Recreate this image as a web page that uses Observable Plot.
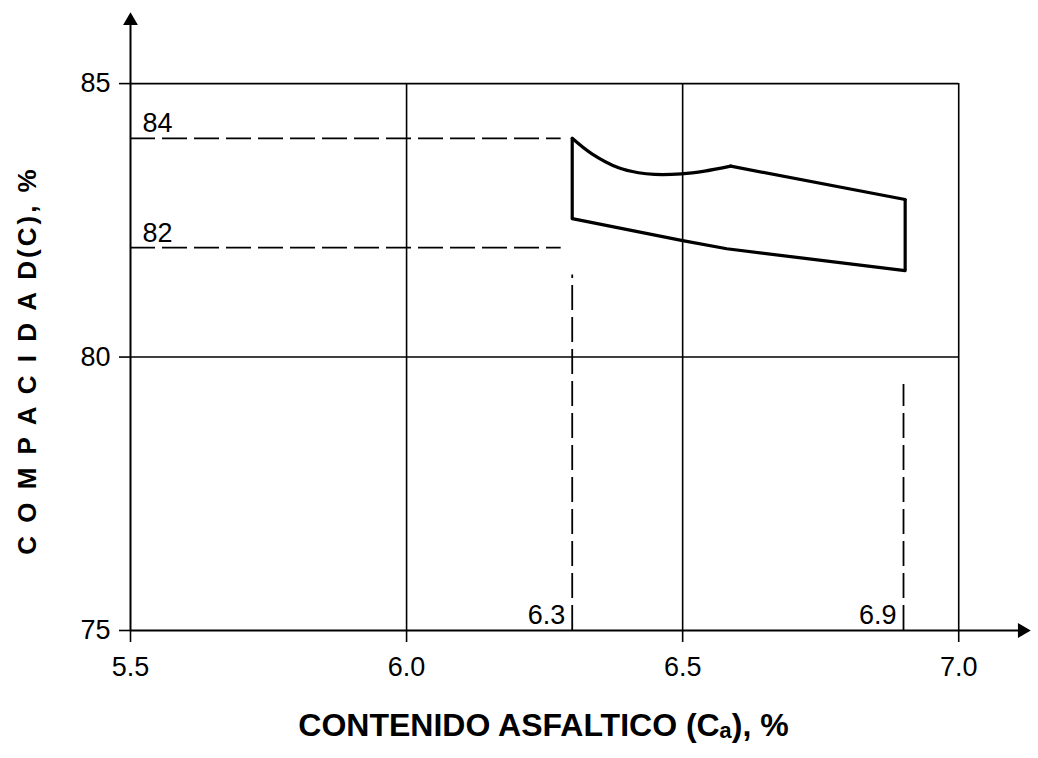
<!DOCTYPE html>
<html>
<head>
<meta charset="utf-8">
<script src="https://cdn.jsdelivr.net/npm/d3@7"></script>
<script src="https://cdn.jsdelivr.net/npm/@observablehq/plot@0.6"></script>
<style>
  html, body { margin: 0; padding: 0; background: #fff; }
  .ylab text { letter-spacing: 3px; }
</style>
</head>
<body>
<div id="chart"></div>
<script>
// ---- data ----
const xTicks = [5.5, 6.0, 6.5, 7.0];
const yTicks = [75, 80, 85];
const gridX = [6.0, 6.5, 7.0];
const gridY = [80, 85];

// upper boundary of the zone: curved part, then straight part
const upperCurveX = [6.3, 6.335, 6.384, 6.42, 6.449, 6.498, 6.54, 6.587];
const upperCurveY = [84.0, 83.72, 83.46, 83.37, 83.34, 83.35, 83.40, 83.49];
const upperLineX = [6.587, 6.903];
const upperLineY = [83.49, 82.88];
// lower boundary of the zone
const lowerX = [6.3, 6.5, 6.58, 6.903];
const lowerY = [82.53, 82.13, 81.98, 81.58];

// reference (dashed) lines
const refY = [84, 82];
const refYLabels = ["84", "82"];
const refYEnd = 6.28;
const refX = [6.3, 6.9];
const refXLabels = ["6.3", "6.9"];
const refXTop = [81.5, 79.5];

const xTitle = "CONTENIDO ASFALTICO (Cₐ), %";
const yTitle = "C O M P A C I D A D(C), %";

const xMin = 5.5, xMax = 7.0, xArrow = 7.115;
const yMin = 75, yMax = 85, yArrow = 86.15;

// ---- build ----
const upperCurve = upperCurveX.map((x, i) => ({x, y: upperCurveY[i]}));
const upperLine = upperLineX.map((x, i) => ({x, y: upperLineY[i]}));
const lower = lowerX.map((x, i) => ({x, y: lowerY[i]}));
const refYData = refY.map((y, i) => ({y, label: refYLabels[i]}));
const refXData = refX.map((x, i) => ({x, top: refXTop[i], label: refXLabels[i]}));
const edges = [
  {x: upperCurveX[0], y1: lowerY[0], y2: upperCurveY[0]},
  {x: upperLineX[upperLineX.length - 1], y1: lowerY[lowerY.length - 1], y2: upperLineY[upperLineY.length - 1]}
];

const chart = Plot.plot({
  width: 1038,
  height: 758,
  marginLeft: 130,
  marginRight: 8,
  marginTop: 12,
  marginBottom: 128,
  style: {fontFamily: "'Liberation Sans', Arial, sans-serif", background: "#fff", color: "#000"},
  x: {domain: [xMin, 7.13]},
  y: {domain: [yMin, 86.3]},
  marks: [
    // grid
    Plot.ruleX(gridX, {x: d => d, y1: yMin, y2: yMax, stroke: "#000", strokeWidth: 1.6}),
    Plot.ruleY(gridY, {y: d => d, x1: xMin, x2: xMax, stroke: "#000", strokeWidth: 1.6}),
    // axis lines with arrows
    Plot.ruleX([xMin], {x: d => d, y1: yMin, y2: yArrow, stroke: "#000", strokeWidth: 2}),
    Plot.ruleY([yMin], {y: d => d, x1: xMin, x2: xArrow, stroke: "#000", strokeWidth: 2}),
    Plot.dot([{x: xMin, y: yArrow}], {x: "x", y: "y", symbol: "triangle", r: 5.5, fill: "#000", stroke: null}),
    Plot.dot([{x: xArrow, y: yMin}], {x: "x", y: "y", symbol: "triangle", r: 5.5, fill: "#000", stroke: null, rotate: 90}),
    // axes
    Plot.axisY(yTicks, {anchor: "left", tickSize: 11, tickPadding: 9, fontSize: 27, strokeWidth: 1.6, label: null, tickFormat: d3.format("d")}),
    Plot.axisX(xTicks, {anchor: "bottom", tickSize: 12, tickPadding: 14, fontSize: 27, strokeWidth: 1.6, label: null, tickFormat: d3.format(".1f")}),
    // dashed reference lines
    Plot.ruleY(refYData, {y: "y", x1: xMin, x2: refYEnd, stroke: "#000", strokeWidth: 1.8, strokeDasharray: "25,7"}),
    Plot.ruleX(refXData, {x: "x", y1: yMin, y2: "top", stroke: "#000", strokeWidth: 1.8, strokeDasharray: "25,7"}),
    Plot.text(refYData, {x: xMin, y: "y", text: "label", textAnchor: "start", lineAnchor: "bottom", dx: 12, dy: -6, fontSize: 27}),
    Plot.text(refXData, {x: "x", y: yMin, text: "label", textAnchor: "end", lineAnchor: "bottom", dx: -7, dy: -7, fontSize: 27}),
    // zone
    Plot.line(upperCurve, {x: "x", y: "y", curve: "catmull-rom", stroke: "#000", strokeWidth: 3.2}),
    Plot.line(upperLine, {x: "x", y: "y", stroke: "#000", strokeWidth: 3.2}),
    Plot.line(lower, {x: "x", y: "y", stroke: "#000", strokeWidth: 3.2}),
    Plot.ruleX(edges, {x: "x", y1: "y1", y2: "y2", stroke: "#000", strokeWidth: 3.2}),
    // titles
    Plot.text([xTitle], {frameAnchor: "bottom", text: d => d, textAnchor: "middle", dx: -37, dy: 95, lineAnchor: "middle", fontSize: 32, fontWeight: "bold"}),
    Plot.text([yTitle], {frameAnchor: "left", text: d => d, textAnchor: "middle", rotate: -90, dx: -103, dy: 39, lineAnchor: "middle", fontSize: 26, fontWeight: "bold", className: "ylab"})
  ]
});
document.getElementById("chart").appendChild(chart);
</script>
</body>
</html>
